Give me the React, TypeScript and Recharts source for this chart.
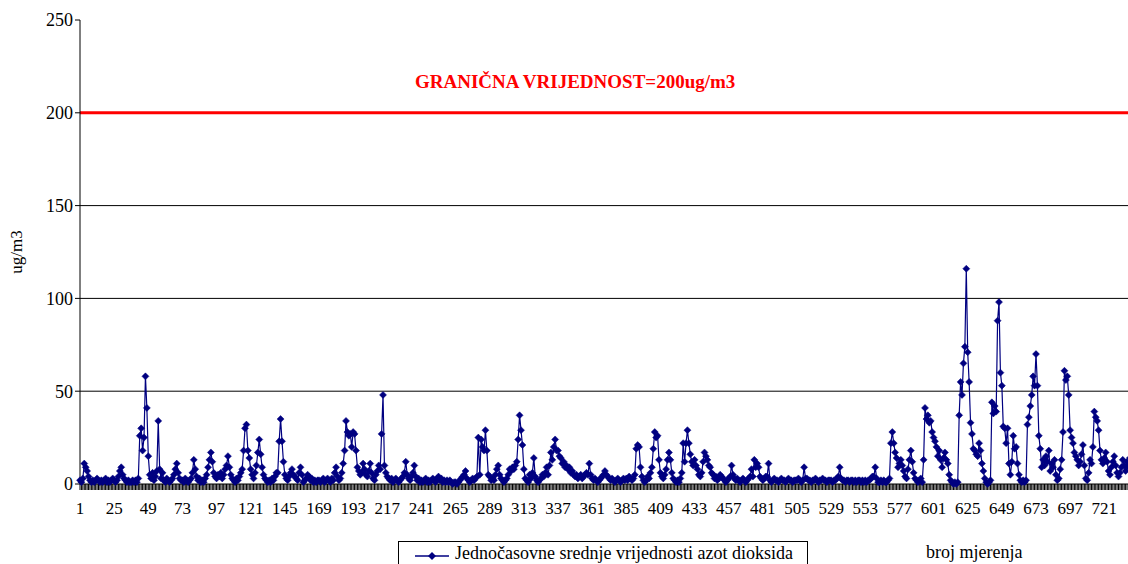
import React from 'react';
import { LineChart, Line, XAxis, YAxis, ReferenceLine } from 'recharts';

// hourly NO2 means (ug/m3), one row per day of 24 readings
const no2Values = [
  2, 1, 3, 11, 9, 7, 4, 2, 1, 2, 1, 2, 3, 2, 1, 2, 1, 2, 3, 1, 2, 1, 2, 3,
  2, 1, 2, 4, 7, 9, 5, 3, 2, 1, 2, 1, 1, 2, 1, 2, 1, 3, 26, 30, 18, 25, 58, 41,
  15, 5, 3, 6, 2, 4, 7, 34, 8, 3, 6, 2, 1, 3, 2, 1, 2, 3, 5, 8, 11, 6, 3, 2,
  2, 1, 3, 2, 1, 2, 3, 6, 13, 8, 4, 2, 3, 1, 2, 1, 3, 5, 9, 13, 17, 12, 6, 4,
  3, 5, 4, 6, 3, 5, 8, 10, 15, 9, 5, 3, 2, 1, 3, 2, 4, 6, 8, 18, 30, 32, 18, 14,
  8, 5, 3, 6, 10, 17, 24, 16, 9, 5, 3, 2, 1, 2, 1, 3, 2, 4, 6, 6, 23, 35, 23, 12,
  5, 3, 2, 4, 6, 8, 5, 4, 3, 2, 6, 9, 5, 1, 2, 3, 5, 4, 2, 3, 1, 2, 1, 2,
  2, 1, 2, 3, 1, 2, 3, 2, 1, 3, 2, 6, 9, 4, 2, 3, 6, 11, 18, 34, 28, 26, 27, 20,
  28, 27, 18, 9, 7, 5, 6, 11, 8, 5, 4, 7, 11, 6, 3, 2, 5, 7, 10, 8, 27, 48, 10, 6,
  4, 3, 2, 3, 1, 2, 3, 2, 1, 2, 3, 4, 6, 12, 5, 3, 2, 4, 6, 10, 4, 2, 3, 1,
  2, 1, 2, 3, 1, 2, 1, 2, 3, 2, 1, 3, 4, 2, 3, 1, 2, 1, 2, 1, 2, 1, 0, 1,
  1, 0, 1, 2, 3, 4, 5, 7, 3, 2, 1, 2, 3, 2, 3, 4, 25, 5, 24, 20, 18, 29, 18, 5,
  4, 2, 3, 2, 5, 8, 10, 5, 3, 2, 1, 2, 3, 5, 8, 7, 9, 8, 10, 12, 24, 37, 29, 21,
  8, 3, 2, 1, 5, 3, 6, 14, 4, 2, 1, 2, 3, 5, 4, 6, 9, 5, 10, 17, 13, 20, 24, 18,
  18, 15, 14, 11, 12, 9, 10, 8, 9, 6, 7, 5, 4, 5, 3, 4, 5, 3, 4, 5, 6, 5, 11, 5,
  3, 2, 3, 2, 1, 2, 3, 4, 5, 7, 5, 4, 3, 2, 3, 2, 1, 2, 3, 2, 1, 2, 3, 2,
  3, 2, 4, 3, 2, 3, 5, 19, 21, 20, 9, 4, 2, 1, 2, 4, 3, 6, 9, 19, 28, 25, 26, 13,
  6, 4, 3, 5, 8, 13, 17, 13, 6, 3, 2, 1, 2, 1, 3, 6, 22, 12, 22, 29, 22, 16, 12, 10,
  13, 10, 8, 5, 4, 6, 12, 17, 15, 13, 10, 9, 6, 5, 3, 4, 2, 3, 5, 4, 3, 2, 1, 2,
  3, 4, 10, 5, 3, 2, 3, 2, 1, 2, 3, 2, 1, 2, 3, 4, 8, 4, 13, 9, 11, 9, 4, 3,
  2, 3, 4, 4, 11, 2, 1, 2, 3, 2, 2, 1, 2, 3, 2, 2, 1, 2, 3, 2, 2, 1, 2, 2,
  2, 3, 2, 1, 2, 9, 3, 3, 2, 2, 1, 2, 2, 3, 2, 1, 2, 2, 3, 2, 2, 1, 2, 2,
  2, 1, 2, 2, 3, 4, 9, 3, 2, 2, 1, 2, 2, 1, 2, 2, 1, 2, 1, 2, 2, 1, 2, 1,
  2, 1, 2, 2, 3, 4, 4, 9, 3, 1, 1, 2, 1, 2, 1, 1, 2, 3, 22, 28, 22, 17, 14, 9,
  11, 13, 10, 7, 4, 3, 8, 13, 18, 12, 6, 3, 2, 1, 2, 3, 1, 13, 41, 35, 37, 33, 34, 28,
  25, 23, 20, 15, 18, 13, 9, 14, 17, 13, 11, 5, 2, 1, 0, 1, 0, 1, 37, 55, 48, 65, 74, 116,
  71, 55, 33, 27, 19, 18, 16, 15, 22, 18, 11, 7, 3, 1, 0, 1, 2, 44, 38, 42, 39, 88, 98, 60,
  53, 31, 30, 22, 30, 11, 5, 12, 26, 19, 20, 11, 5, 2, 1, 2, 1, 2, 32, 36, 42, 48, 58, 53,
  70, 53, 26, 19, 9, 13, 10, 15, 12, 18, 7, 11, 9, 13, 5, 2, 3, 8, 13, 28, 61, 56, 58, 48,
  29, 25, 22, 17, 15, 13, 10, 12, 16, 21, 10, 3, 2, 6, 13, 11, 20, 39, 36, 34, 29, 18, 13, 11,
  14, 17, 12, 7, 5, 9, 12, 15, 10, 6, 4, 6, 9, 13, 10, 7, 12, 9, 14, 10, 6, 8, 11, 9,
];

const measurementNumbers = no2Values.map((_, idx) => idx + 1);
const xTickLabels = [1, 25, 49, 73, 97, 121, 145, 169, 193, 217, 241, 265, 289, 313, 337, 361, 385, 409, 433, 457, 481, 505, 529, 553, 577, 601, 625, 649, 673, 697, 721];
const yTicks = [0, 50, 100, 150, 200, 250];
const gridValues = [50, 100, 150];
const limitValue = 200;

const data = measurementNumbers.map((n, idx) => ({ n, no2: no2Values[idx] }));

const FONT = "'Liberation Serif', 'Times New Roman', serif";
const NAVY = '#000080';

function Diamond(props: any) {
  const { cx, cy, index } = props;
  if (cx == null || cy == null) return <g key={index} />;
  const r = 3.5;
  return (
    <path
      key={index}
      d={`M${cx},${cy - r}L${cx + r},${cy}L${cx},${cy + r}L${cx - r},${cy}Z`}
      fill={NAVY}
      stroke={NAVY}
      strokeWidth={0.5}
    />
  );
}

function XTick(props: any) {
  const { x, y, payload } = props;
  if (!xTickLabels.includes(payload.value)) return <g />;
  return (
    <text x={x} y={y + 22} textAnchor="middle" fontSize={17} fontFamily={FONT} fill="#000">
      {payload.value}
    </text>
  );
}

export default function App() {
  return (
    <div
      style={{
        position: 'fixed',
        left: 0,
        top: 0,
        width: 1128,
        height: 564,
        overflow: 'hidden',
        background: '#fff',
        fontFamily: FONT,
      }}
    >
      <LineChart width={1140} height={564} data={data} margin={{ top: 20, right: 3, left: 0, bottom: 50 }}>
        <XAxis
          dataKey="n"
          type="number"
          domain={[1, 744]}
          ticks={measurementNumbers}
          interval={0}
          tick={<XTick />}
          tickSize={6}
          tickLine={{ stroke: '#000' }}
          axisLine={{ stroke: '#000' }}
          height={30}
        />
        <YAxis
          domain={[0, 250]}
          ticks={yTicks}
          interval={0}
          width={80}
          tickSize={5}
          tick={{ fill: '#000', fontSize: 18, fontFamily: FONT }}
          axisLine={{ stroke: '#000' }}
          tickLine={{ stroke: '#000' }}
          label={{ value: 'ug/m3', angle: -90, position: 'insideLeft', offset: 16, style: { fill: '#000', fontSize: 17, fontFamily: FONT, textAnchor: 'middle' } }}
        />
        {gridValues.map((v) => (
          <ReferenceLine key={v} y={v} stroke="#000" strokeWidth={1} />
        ))}
        <ReferenceLine y={limitValue} stroke="#ff0000" strokeWidth={3} ifOverflow="visible" />
        <Line
          type="linear"
          dataKey="no2"
          stroke={NAVY}
          strokeWidth={1.2}
          dot={(p: any) => <Diamond key={p.index} {...p} />}
          activeDot={false}
          isAnimationActive={false}
        />
      </LineChart>

      <div
        style={{
          position: 'absolute',
          left: 415,
          top: 71,
          color: '#ff0000',
          fontWeight: 'bold',
          fontSize: 19,
          whiteSpace: 'nowrap',
        }}
      >
        GRANIČNA VRIJEDNOST=200ug/m3
      </div>

      <div
        style={{
          position: 'absolute',
          left: 398,
          top: 541,
          width: 410,
          height: 40,
          border: '1px solid #000',
          boxSizing: 'border-box',
        }}
      >
        <svg width={40} height={24} style={{ position: 'absolute', left: 14, top: 2 }}>
          <line x1={2} y1={12} x2={36} y2={12} stroke={NAVY} strokeWidth={1.5} />
          <path d="M19,8L23,12L19,16L15,12Z" fill={NAVY} />
        </svg>
        <span style={{ position: 'absolute', left: 56, top: 1, fontSize: 18, whiteSpace: 'nowrap' }}>
          Jednočasovne srednje vrijednosti azot dioksida
        </span>
      </div>

      <div style={{ position: 'absolute', left: 926, top: 542, fontSize: 18, whiteSpace: 'nowrap' }}>
        broj mjerenja
      </div>
    </div>
  );
}
